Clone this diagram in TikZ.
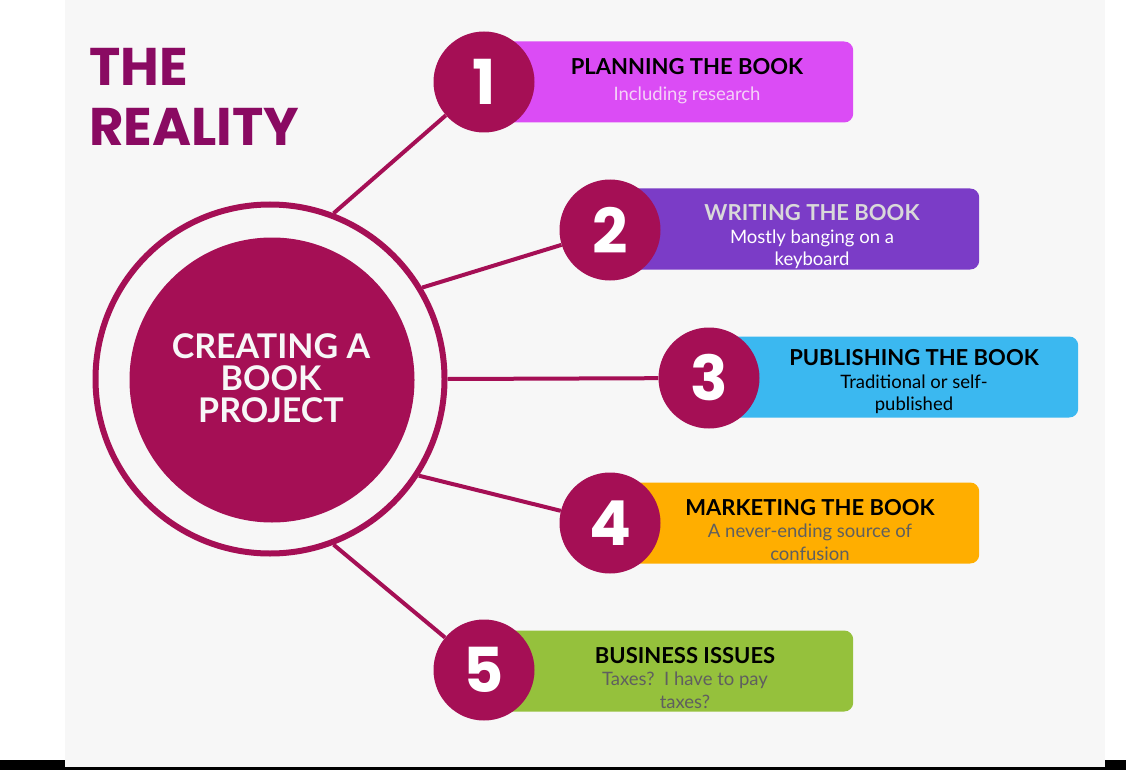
\documentclass[tikz,border=0pt]{standalone}
\usepackage{fontspec}
\setmainfont{Lato}
\newfontfamily\headfont{Poppins}
\usetikzlibrary{calc,positioning}

\definecolor{maroon}{HTML}{A50F55}
\definecolor{titlecol}{HTML}{8A0A62}
\definecolor{panel}{HTML}{F7F7F7}
\definecolor{boxOne}{HTML}{DB4CF5}
\definecolor{boxTwo}{HTML}{7B3CC7}
\definecolor{boxThree}{HTML}{3BB8F0}
\definecolor{boxFour}{HTML}{FFAE00}
\definecolor{boxFive}{HTML}{95C13C}
\definecolor{subOne}{HTML}{F5D2F8}
\definecolor{headTwo}{HTML}{D9D9D9}
\definecolor{subGray}{HTML}{5F5F5F}

\begin{document}
\begin{tikzpicture}[x=1pt,y=-1pt]
    \tikzset{NumStyle/.style = {circle, fill=maroon, text=white,
        minimum size=101pt, inner sep=0pt,
        font=\headfont\bfseries\fontsize{62}{62}\selectfont},
      BoxStyle/.style = {rectangle, rounded corners=9pt, anchor=west,
        minimum width=369pt, minimum height=81pt},
      TextStyle/.style = {align=center, inner sep=0pt,
        font=\fontsize{18.5}{22.5}\selectfont},
      LinkStyle/.style = {draw=maroon, line width=4pt}}
    \newcommand\boxhead{\bfseries\fontsize{22}{22}\selectfont}
    \useasboundingbox (0,0) rectangle (1126,770);
    \fill[black] (0,760) rectangle (1126,770);
    \fill[panel] (65,0) rectangle (1105,767);
    % title
    \node[anchor=north west, align=left, inner sep=0pt, text=titlecol,
      font=\headfont\bfseries\fontsize{53}{60}\selectfont] (title) at (89,48) {THE\\REALITY};
    % centre
    \node[circle, draw=maroon, line width=6pt, minimum size=349pt] (ring) at (270,379) {};
    \node[circle, fill=maroon, minimum size=285pt] (core) at (272,380) {};
    \node[align=center, text=panel, font=\bfseries\fontsize{34}{32}\selectfont] (coretext) at (271,378) {CREATING A\\BOOK\\PROJECT};
    % boxes
    \node[BoxStyle, fill=boxOne] (box1) at (484,82) {};
    \node[BoxStyle, fill=boxTwo] (box2) at (610,229) {};
    \node[BoxStyle, fill=boxThree] (box3) at (709,377) {};
    \node[BoxStyle, fill=boxFour] (box4) at (610,523) {};
    \node[BoxStyle, fill=boxFive] (box5) at (484,671) {};
    \node[TextStyle, text=subOne] (t1) at (687,81) {{\color{black}\boxhead PLANNING THE BOOK}\\[4pt]Including research};
    \node[TextStyle, text=white] (t2) at (812,237) {{\color{headTwo}\boxhead WRITING THE BOOK}\\Mostly banging on a\\keyboard};
    \node[TextStyle, text=black] (t3) at (914,382) {{\boxhead PUBLISHING THE BOOK}\\Traditional or self-\\published};
    \node[TextStyle, text=subGray] (t4) at (810,530) {{\color{black}\boxhead MARKETING THE BOOK}\\A never-ending source of\\confusion};
    \node[TextStyle, text=subGray] (t5) at (685,678) {{\color{black}\boxhead BUSINESS ISSUES}\\Taxes?\ \ I have to pay\\taxes?};
    % numbers
    \node[NumStyle] (n1) at (484,82) {1};
    \node[NumStyle] (n2) at (610,230) {2};
    \node[NumStyle] (n3) at (709,378) {3};
    \node[NumStyle] (n4) at (610,523) {4};
    \node[NumStyle] (n5) at (484,670) {5};
    \draw[LinkStyle] (ring.69) -- (n1);
    \draw[LinkStyle] (ring.31) -- (n2);
    \draw[LinkStyle] (ring.0) -- (n3);
    \draw[LinkStyle] (ring.-33) -- (n4);
    \draw[LinkStyle] (ring.-69) -- (n5);
  \end{tikzpicture}
\end{document}
